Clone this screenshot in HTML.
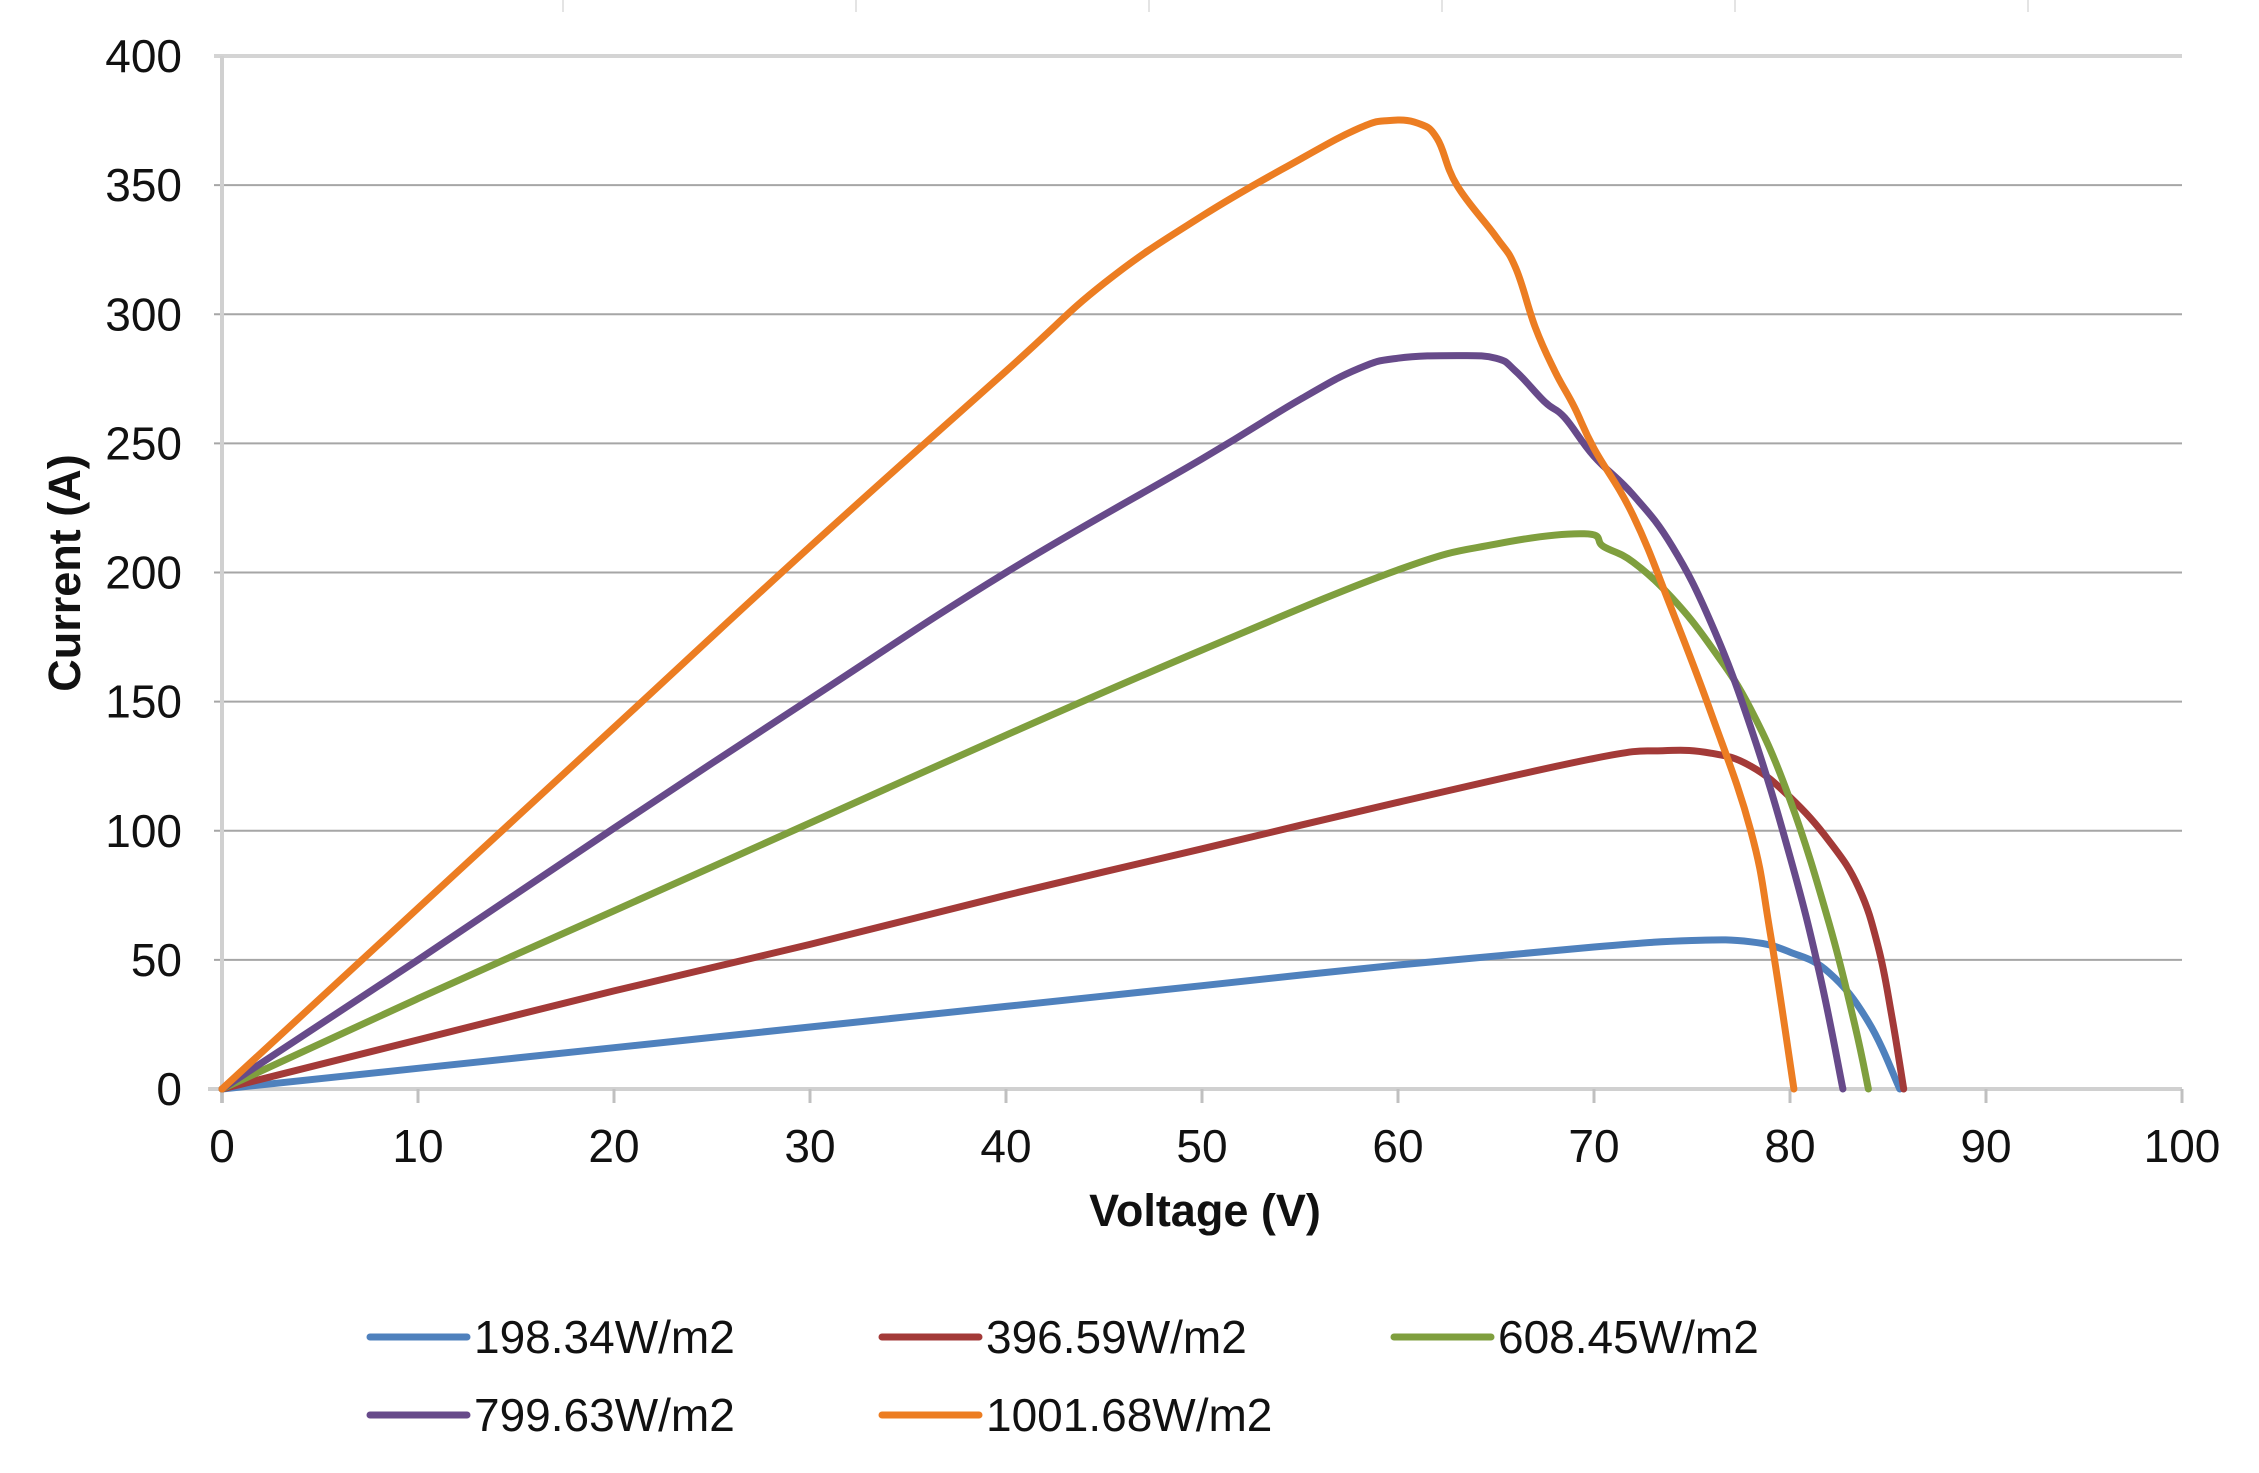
<!DOCTYPE html>
<html><head><meta charset="utf-8"><style>
html,body{margin:0;padding:0;background:#fff;}
svg{display:block;font-family:"Liberation Sans",Arial,sans-serif;}
</style></head><body>
<svg id="c" width="2259" height="1473" viewBox="0 0 2259 1473" xmlns="http://www.w3.org/2000/svg"></svg>
<script>
var s=document.getElementById('c'),NS='http://www.w3.org/2000/svg';
function el(t,a,txt){var e=document.createElementNS(NS,t);for(var k in a)e.setAttribute(k,a[k]);if(txt!=null)e.textContent=txt;s.appendChild(e);return e;}
var X0=222,XU=19.6,Y0=1089,YU=2.5825;
function px(x){return X0+x*XU;} function py(y){return Y0-y*YU;}
for(var i=1;i<=7;i++){el('line',{x1:270+i*293,y1:0,x2:270+i*293,y2:12,stroke:'#e4e4e4','stroke-width':2});}
for(var v=50;v<=400;v+=50){el('line',{x1:X0-8,y1:py(v),x2:px(100),y2:py(v),stroke:v==400?'#d4d4d4':'#a6a6a6','stroke-width':v==400?4:2});}
for(var v=0;v<=400;v+=50){el('text',{x:182,y:py(v)+16,'text-anchor':'end','font-size':46,fill:'#111'},String(v));}
el('line',{x1:X0,y1:py(400),x2:X0,y2:Y0+14,stroke:'#d0d0d0','stroke-width':4});
el('line',{x1:X0-14,y1:Y0,x2:px(100),y2:Y0,stroke:'#d0d0d0','stroke-width':4});
for(var v=0;v<=100;v+=10){el('line',{x1:px(v),y1:Y0,x2:px(v),y2:Y0+14,stroke:'#c0c0c0','stroke-width':3});
el('text',{x:px(v),y:1162,'text-anchor':'middle','font-size':46,fill:'#111'},String(v));}
el('text',{x:1205,y:1226,'text-anchor':'middle','font-size':45,'font-weight':'bold',fill:'#111'},'Voltage (V)');
el('text',{x:0,y:0,'text-anchor':'middle','font-size':45,'font-weight':'bold',fill:'#111',transform:'translate(80,573) rotate(-90)'},'Current (A)');
var D={
'#4f81bd':[[0,0],[10,8],[20,16],[30,24],[40,32],[50,40],[60,48],[70,55],[75,57.5],[78,57],[80,53],[82,45],[84,26],[85.6,0]],
'#a33a38':[[0,0],[10,19],[20,38],[30,56],[40,75],[50,93],[60,111],[70,128],[73.5,131],[76,130],[78,125],[80,113],[82,96],[83.5,78],[84.5,55],[85.2,28],[85.8,0]],
'#7f9f3e':[[0,0],[10,35],[20,69],[30,103],[40,137],[50,170],[60,201],[65,211],[69.5,215],[70.5,210],[72,204],[74,190],[76,171],[78,147],[80,112],[82,64],[83.3,25],[84,0]],
'#674a8a':[[0,0],[10,50],[20,101],[30,151],[40,200],[50,244],[55,267],[58,279],[60,283],[63,284],[65,283],[66,278],[67.5,266],[68.5,260],[70,245],[72,230],[74,210],[76,180],[78,140],[80,90],[81.5,45],[82.7,0]],
'#ec7d22':[[0,0],[10,70],[20,140],[30,210],[40,278],[45,312],[50,338],[55,360],[58,372],[59.5,375],[61,374],[62,368],[63,350],[65,330],[66,318],[67,295],[68,278],[69,264],[70,248],[72,222],[74,185],[76,145],[78,100],[79,60],[80.2,0]]};
function smooth(pts){var P=pts.map(function(q){return [px(q[0]),py(q[1])];});var d='M'+P[0][0].toFixed(1)+','+P[0][1].toFixed(1);
for(var i=0;i<P.length-1;i++){var p0=P[i-1]||P[i],p1=P[i],p2=P[i+1],p3=P[i+2]||P[i+1];var t=0.2;
var c1=[p1[0]+(p2[0]-p0[0])*t,p1[1]+(p2[1]-p0[1])*t],c2=[p2[0]-(p3[0]-p1[0])*t,p2[1]-(p3[1]-p1[1])*t];
d+=' C'+c1[0].toFixed(1)+','+c1[1].toFixed(1)+' '+c2[0].toFixed(1)+','+c2[1].toFixed(1)+' '+p2[0].toFixed(1)+','+p2[1].toFixed(1);}return d;}
for(var c in D){el('path',{d:smooth(D[c]),fill:'none',stroke:c,'stroke-width':7,'stroke-linejoin':'round','stroke-linecap':'round'});}
var L=[['#4f81bd','198.34W/m2',370,1337],['#a33a38','396.59W/m2',882,1337],['#7f9f3e','608.45W/m2',1394,1337],['#674a8a','799.63W/m2',370,1415],['#ec7d22','1001.68W/m2',882,1415]];
L.forEach(function(l){el('line',{x1:l[2],y1:l[3],x2:l[2]+97,y2:l[3],stroke:l[0],'stroke-width':7,'stroke-linecap':'round'});
el('text',{x:l[2]+104,y:l[3]+16,'font-size':46,fill:'#111'},l[1]);});
</script>
</body></html>
